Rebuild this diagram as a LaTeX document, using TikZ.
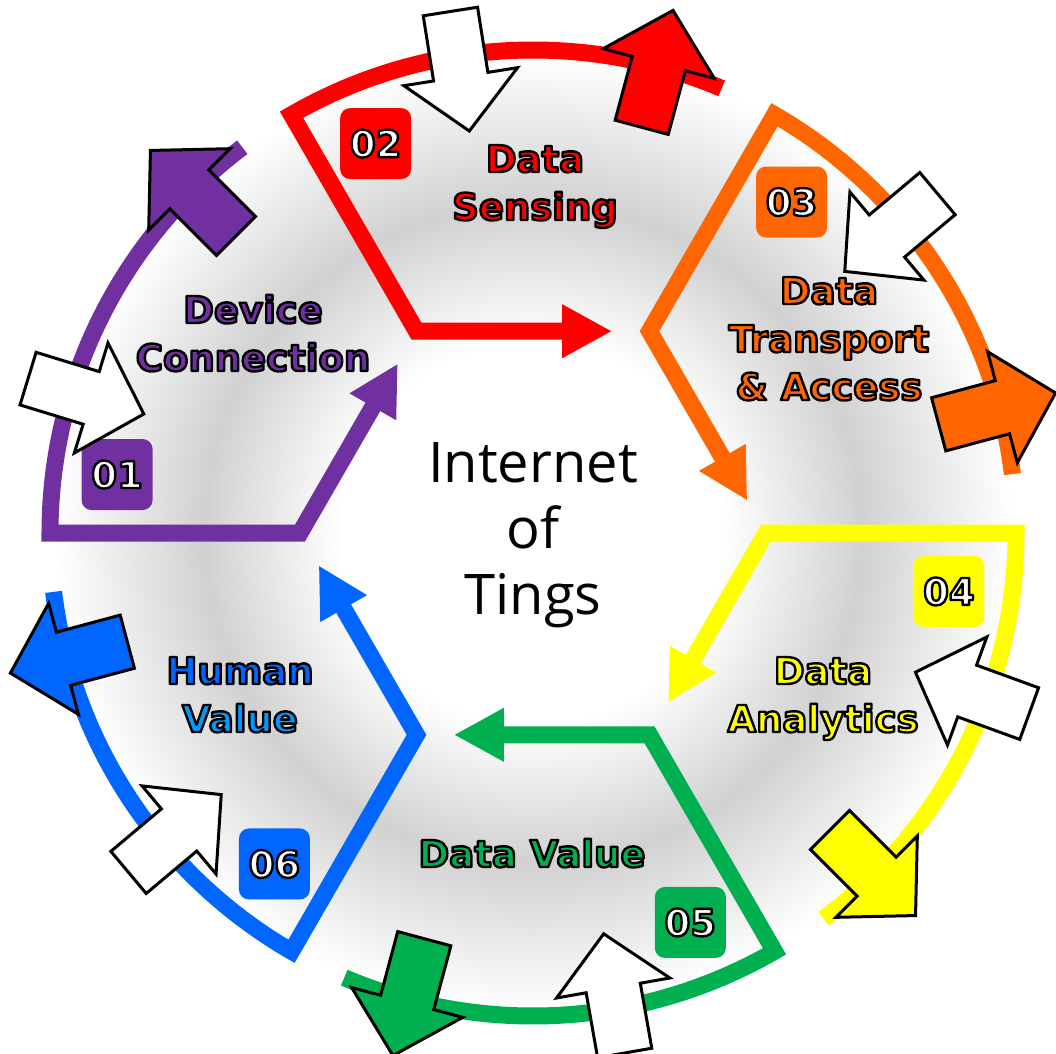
\documentclass[tikz,border=0pt]{standalone}
\usepackage{fontspec}
\usetikzlibrary{arrows.meta,calc}
\setmainfont{DejaVu Sans}
\newfontfamily\titlefont{Open Sans}

\definecolor{iotpurple}{HTML}{7030A0}
\definecolor{iotred}{HTML}{FF0000}
\definecolor{iotorange}{HTML}{FF6600}
\definecolor{iotyellow}{HTML}{FFFF00}
\definecolor{iotgreen}{HTML}{00B050}
\definecolor{iotblue}{HTML}{0066FF}
\definecolor{iotsky}{HTML}{0099FF}

% outlined text: fill in the current colour, black stroke round the glyphs
\newcommand{\outl}[1]{\special{pdf:literal direct 0 0 0 RG 2.4 w 1 j 2 Tr}#1\special{pdf:literal direct 0 Tr}}

\pgfdeclareradialshading{ringshade}{\pgfpoint{0bp}{0bp}}{color(0bp)=(white); color(8.5bp)=(white); color(14.7bp)=(black!18); color(21.4bp)=(white); color(50bp)=(white)}

\begin{document}
\begin{tikzpicture}[
    x=1pt, y=1pt,
    ring/.style={line width=17pt, line join=miter, -{Triangle[length=50pt,width=50pt]}},
    numbox/.style={rounded corners=10pt, minimum size=71pt, inner sep=0pt, text=white, font=\bfseries\fontsize{37}{37}\selectfont},
    steplabel/.style={align=center, anchor=base, inner sep=0pt, font=\bfseries\fontsize{37}{48}\selectfont},
    blockarrow/.pic={\draw[line width=3pt, line join=miter, fill=#1] (0,27.5) -- (66,27.5) -- (66,57.5) -- (121,0) -- (66,-57.5) -- (66,-27.5) -- (0,-27.5) -- cycle;}
]
    \useasboundingbox (-533,-520) rectangle (523,533);

    % Background glow
    \fill[shading=ringshade] (-560,-560) rectangle (560,560);

    % Sector paths
    \foreach \hi/\col in {180/iotpurple, 120/iotred, 60/iotorange, 0/iotyellow, -60/iotgreen, -120/iotblue}
        \draw[ring, draw=\col] (\hi-53:483) arc[start angle=\hi-53, end angle=\hi, radius=483]
            -- (\hi:233) -- ($(\hi:233)!0.84!(\hi-60:233)$);

    % Step numbers
    \foreach \hi/\col/\num in {180/iotpurple/01, 120/iotred/02, 60/iotorange/03, 0/iotyellow/04, -60/iotgreen/05, -120/iotblue/06}
        \node[numbox, fill=\col] (num\num) at (\hi-8:420) {\outl{\num}};

    % Step labels (anchored on the last line)
    \node[steplabel, text=iotpurple] (devconn) at (-280,162) {\outl{Device}\\\outl{Connection}};
    \node[steplabel, text=iotred] (sensing) at (2,313) {\outl{Data}\\\outl{Sensing}};
    \node[steplabel, text=iotorange] (transport) at (296,133) {\outl{Data}\\\outl{Transport}\\\outl{\& Access}};
    \node[steplabel, text=iotyellow] (analytics) at (290,-199) {\outl{Data}\\\outl{Analytics}};
    \node[steplabel, text=iotgreen] (datavalue) at (-1,-334) {\outl{Data Value}};
    \node[steplabel, text=iotblue] (humanvalue) at (-293,-199) {\outl{Human}\\\textcolor{iotsky}{\outl{Value}}};

    % Centre title
    \node[align=center, anchor=base, inner sep=0pt, font=\titlefont\fontsize{56}{66}\selectfont] (title) at (0,-81) {Internet\\of\\Tings};

    % Outgoing and incoming block arrows
    \foreach \hi/\col/\wa in {180/iotpurple/163, 120/iotred/99, 60/iotorange/40, 0/iotyellow/-20, -60/iotgreen/-80, -120/iotblue/-140} {
        \pic[rotate=\hi-45] at (\hi-45:420) {blockarrow=\col};
        \pic[rotate=\wa+180] at (\wa:528) {blockarrow=white};
    }
\end{tikzpicture}
\end{document}
